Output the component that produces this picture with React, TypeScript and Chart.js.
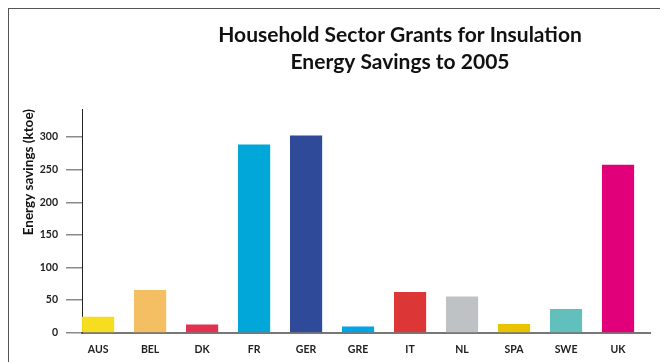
import React, { useEffect, useRef } from "react";
import { Chart, registerables } from "chart.js";

Chart.register(...registerables);

const countries = ["AUS", "BEL", "DK", "FR", "GER", "GRE", "IT", "NL", "SPA", "SWE", "UK"];
const savings = [24, 65, 12, 288, 302, 9, 62, 55, 13, 36, 257];
const barColors = [
  "#F6DD1F",
  "#F4BE62",
  "#E3324F",
  "#00A7D8",
  "#2E4A99",
  "#00A5E3",
  "#DD3636",
  "#BFC2C5",
  "#E9C200",
  "#62C0BC",
  "#E2007A",
];
const titleLines = ["Household Sector Grants for Insulation", "Energy Savings to 2005"];
const yAxisTitle = "Energy savings (ktoe)";
const yMax = 343;
const yStep = 50;

const FONT = "Lato, 'Noto Sans', sans-serif";

export default function App() {
  const ref = useRef<HTMLCanvasElement | null>(null);

  useEffect(() => {
    if (!ref.current) return;
    const chart = new Chart(ref.current, {
      type: "bar",
      data: {
        datasets: [
          {
            data: savings.map((v, i) => ({ x: i, y: v })),
            backgroundColor: barColors,
            borderWidth: 0,
            barThickness: 31.5,
          },
        ],
      },
      options: {
        responsive: false,
        animation: false,
        devicePixelRatio: 1,
        layout: { padding: { left: 10, right: 10, top: 0, bottom: 33.3 } },
        plugins: {
          legend: { display: false },
          tooltip: { enabled: false },
          title: {
            display: true,
            text: titleLines,
            color: "#111",
            font: { family: FONT, size: 21, weight: "bold", lineHeight: 1.286 },
            padding: { top: 12.5, bottom: 33.5 },
          },
        },
        scales: {
          x: {
            type: "linear",
            offset: false,
            min: -0.31,
            max: 10.615,
            z: 1,
            grid: { offset: false, drawOnChartArea: false, drawTicks: false },
            border: { display: true, color: "rgba(85,85,85,0.8)", width: 2 },
            ticks: {
              stepSize: 1,
              includeBounds: false,
              autoSkip: false,
              maxRotation: 0,
              padding: 11,
              color: "#222",
              font: { family: FONT, size: 10.5, weight: "bold" },
              callback: (v: any) => (Number.isInteger(v) ? countries[v] ?? "" : ""),
            },
            afterFit: (s: any) => {
              s.height = 23;
            },
          },
          y: {
            min: 0,
            max: yMax,
            grid: {
              drawOnChartArea: false,
              drawTicks: true,
              tickLength: 16,
              color: "#8a8a8a",
              lineWidth: 1.5,
            },
            border: { display: true, color: "#222", width: 1 },
            ticks: {
              stepSize: yStep,
              includeBounds: false,
              padding: 8,
              color: "#222",
              font: { family: FONT, size: 10.5, weight: "bold" },
            },
            title: {
              display: true,
              text: yAxisTitle,
              align: "end",
              color: "#111",
              font: { family: FONT, size: 13.5, weight: "bold", lineHeight: 1.2 },
              padding: { top: 2, bottom: 3 },
            },
            afterFit: (s: any) => {
              s.width = 63;
            },
          },
          spacer: {
            type: "linear",
            position: "right",
            display: true,
            grid: { display: false, drawTicks: false },
            border: { display: false },
            ticks: { display: false },
            afterFit: (s: any) => {
              s.width = 131;
            },
          },
        },
      } as any,
    });
    return () => chart.destroy();
  }, []);

  return (
    <div
      style={{
        width: 660,
        height: 354,
        overflow: "hidden",
        borderTop: "1px solid #555",
        borderLeft: "1px solid #555",
        boxSizing: "border-box",
      }}
    >
      <canvas ref={ref} width={782} height={380} style={{ display: "block" }} />
    </div>
  );
}
